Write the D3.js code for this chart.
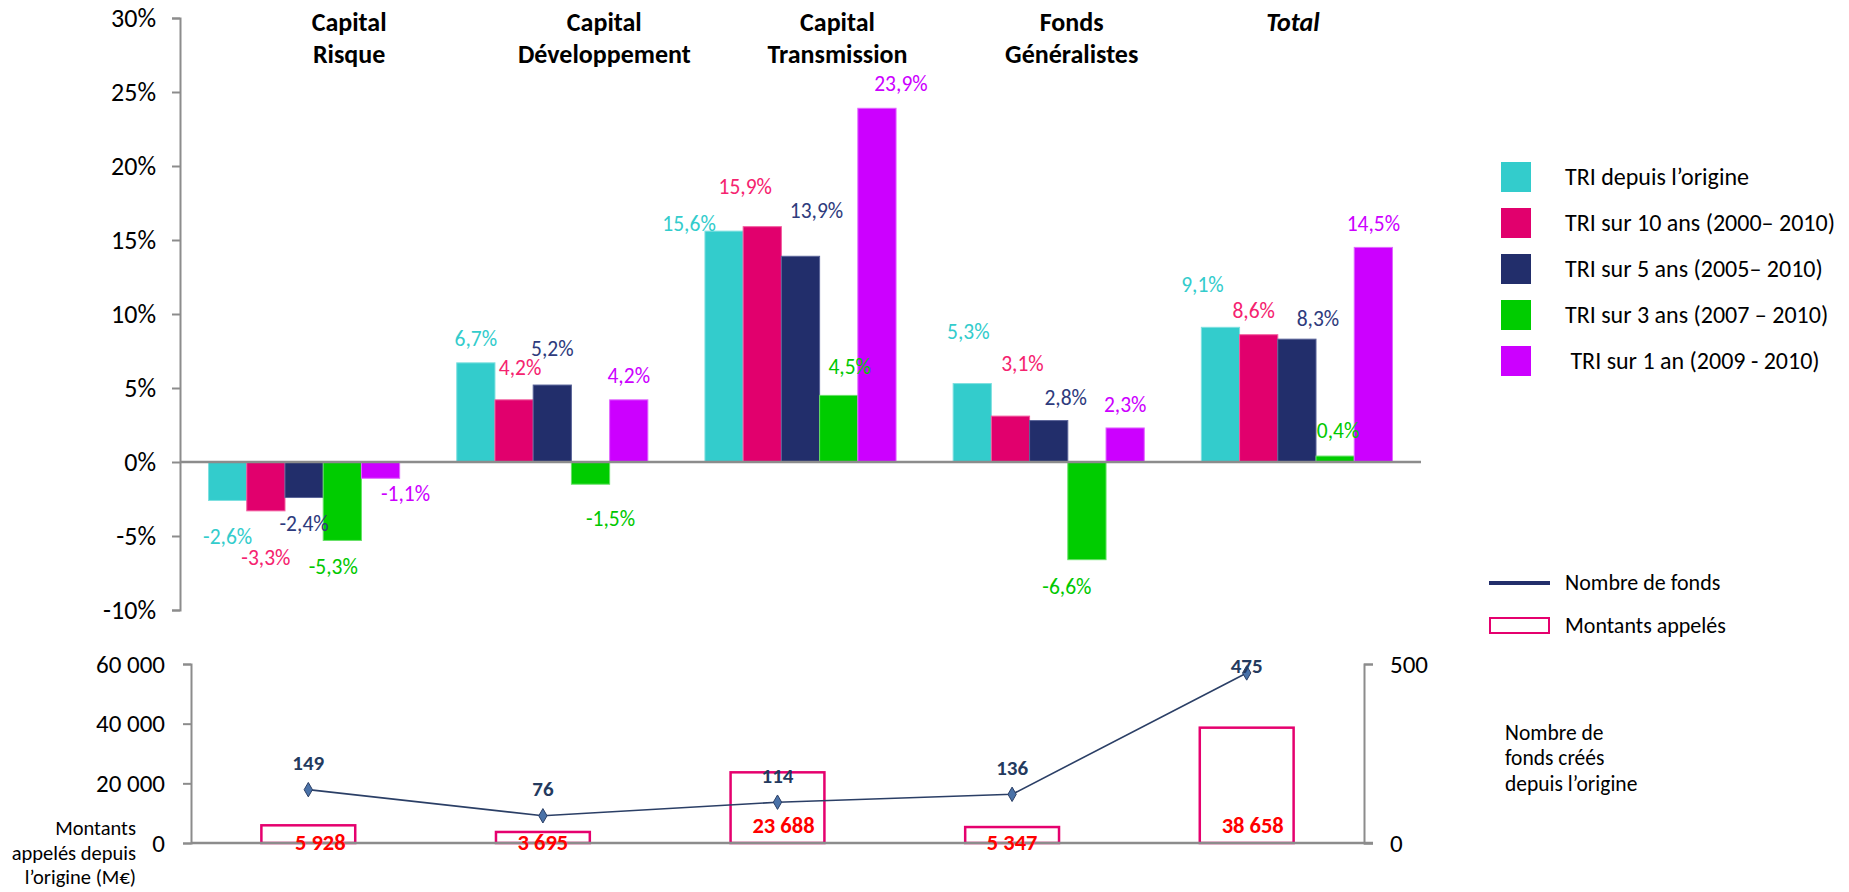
<!DOCTYPE html>
<html>
<head>
<meta charset="utf-8">
<script src="https://cdn.jsdelivr.net/npm/d3@7"></script>
<style>
  body { margin: 0; background: #fff; }
  text { font-family: Carlito, Calibri, Lato, sans-serif; }
</style>
</head>
<body>
<script>
// dimensions
const width = 1849;
const height = 892;

// categories and their two-line titles
const categories = ["Capital Risque", "Capital Développement", "Capital Transmission", "Fonds Généralistes", "Total"];
const titleLines = [["Capital", "Risque"], ["Capital", "Développement"], ["Capital", "Transmission"], ["Fonds", "Généralistes"], ["Total"]];

// TRI series (in %)
const seriesNames = ["TRI depuis l’origine", "TRI sur 10 ans (2000– 2010)", "TRI sur 5 ans (2005– 2010)", "TRI sur 3 ans (2007 – 2010)", " TRI sur 1 an (2009 - 2010)"];
const triOrigine = [-2.6, 6.7, 15.6, 5.3, 9.1];
const tri10ans = [-3.3, 4.2, 15.9, 3.1, 8.6];
const tri5ans = [-2.4, 5.2, 13.9, 2.8, 8.3];
const tri3ans = [-5.3, -1.5, 4.5, -6.6, 0.4];
const tri1an = [-1.1, 4.2, 23.9, 2.3, 14.5];

// bottom panel
const montants = [5928, 3695, 23688, 5347, 38658];
const nbFonds = [149, 76, 114, 136, 475];

// tick values
const pctTicks = [-10, -5, 0, 5, 10, 15, 20, 25, 30];
const montantTicks = [0, 20000, 40000, 60000];
const fondsTicks = [0, 500];

const seriesValues = [triOrigine, tri10ans, tri5ans, tri3ans, tri1an];
const barColors = ["#33CCCC", "#E1006D", "#222E6B", "#00CC00", "#CC00FF"];
const edgeColors = ["#7FE0E0", "#F25C9E", "#5A6499", "#66E066", "#E066FF"];
const labelColors = ["#33CCCC", "#F5236F", "#2E3B7D", "#00C800", "#CC00FF"];

// hand placed label nudges, like in the original sheet [dx, dy]
const labelNudge = [
    [[0, 18], [0, -6], [-35, 10], [-4, -34], [-18, -25]],
    [[0, 29], [6, -14], [-17, -22], [12, -35], [-5, -6]],
    [[0, 8], [0, -19], [16, -28], [17, -5], [21, -3]],
    [[-9, 8], [20, 16], [11, -11], [-20, 9], [3, -8]],
    [[25, -3], [0, -6], [24, -7], [0, -5], [0, -6]]
];
const titleNudge = [45, 52, 37, 23, -4];
const montantNudge = [12, 0, 6, 0, 6];

const axisGrey = "#8C8C8C";
const fmtPct = v => String(v).replace(".", ",") + "%";
const fmtSpace = v => d3.format(",")(v).replace(/,/g, " ");

let svg = d3.select("body")
    .append("svg")
    .attr("width", width)
    .attr("height", height);

// ---------- top chart : TRI ----------
let x0 = d3.scaleBand()
    .domain(categories)
    .range([180, 1421])
    .paddingInner(0.23)
    .paddingOuter(0.115);

let x1 = d3.scaleBand()
    .domain(d3.range(seriesNames.length))
    .range([0, x0.bandwidth()]);

let yPct = d3.scaleLinear()
    .domain([-10, 30])
    .range([610, 18]);

// y axis
let yAxis = svg.append("g")
    .attr("transform", "translate(180,0)")
    .call(d3.axisLeft(yPct).tickValues(pctTicks).tickSize(8).tickPadding(16).tickFormat(d => d + "%"));
yAxis.select(".domain").attr("stroke", axisGrey).attr("stroke-width", 2);
yAxis.selectAll(".tick line").attr("stroke", axisGrey).attr("stroke-width", 2);
yAxis.selectAll(".tick text").attr("font-size", 26).attr("fill", "#000");

// bars first, labels after so nothing covers them
let barLayer = svg.append("g");
let labelLayer = svg.append("g");

seriesValues.forEach(function (vals, s) {
    barLayer.append("g")
        .selectAll("rect")
        .data(vals)
        .enter()
        .append("rect")
        .attr("x", (d, i) => x0(categories[i]) + x1(s))
        .attr("width", x1.bandwidth())
        .attr("y", d => yPct(Math.max(0, d)))
        .attr("height", d => Math.abs(yPct(d) - yPct(0)))
        .attr("fill", barColors[s])
        .attr("stroke", edgeColors[s])
        .attr("stroke-width", 1);

    labelLayer.append("g")
        .selectAll("text")
        .data(vals)
        .enter()
        .append("text")
        .attr("x", (d, i) => x0(categories[i]) + x1(s) + x1.bandwidth() / 2 + labelNudge[s][i][0])
        .attr("y", (d, i) => (d >= 0 ? yPct(d) - 18 : yPct(d) + 18) + labelNudge[s][i][1])
        .attr("dy", "0.35em")
        .attr("text-anchor", "middle")
        .attr("font-size", 21.5)
        .attr("fill", labelColors[s])
        .text(d => fmtPct(d));
});

// zero line
barLayer.append("line")
    .attr("x1", 180).attr("x2", 1421)
    .attr("y1", yPct(0)).attr("y2", yPct(0))
    .attr("stroke", axisGrey).attr("stroke-width", 2.5);

// category titles
categories.forEach(function (c, i) {
    let t = svg.append("text")
        .attr("text-anchor", "middle")
        .attr("font-size", 26)
        .attr("font-weight", "bold")
        .attr("font-style", c === "Total" ? "italic" : "normal")
        .attr("fill", "#000");
    titleLines[i].forEach(function (line, k) {
        t.append("tspan")
            .attr("x", x0(c) + x0.bandwidth() / 2 + titleNudge[i])
            .attr("y", 22 + k * 32)
            .attr("dy", "0.35em")
            .text(line);
    });
});

// legend TRI
let legend = svg.append("g").attr("transform", "translate(1501,162)");
seriesNames.forEach(function (name, s) {
    legend.append("rect")
        .attr("x", 0).attr("y", s * 46)
        .attr("width", 30).attr("height", 30)
        .attr("fill", barColors[s]);
    legend.append("text")
        .attr("x", 64).attr("y", s * 46 + 15)
        .attr("dy", "0.35em")
        .attr("font-size", 24)
        .attr("fill", "#000")
        .style("white-space", "pre")
        .text(name);
});

// ---------- bottom chart : montants + nombre de fonds ----------
let xb = d3.scaleBand()
    .domain(categories)
    .range([191, 1364])
    .paddingInner(0.6)
    .paddingOuter(0.3);

let yMontant = d3.scaleLinear()
    .domain([0, 60000])
    .range([843, 664]);

let yFonds = d3.scaleLinear()
    .domain([0, 500])
    .range([843, 664]);

let leftAxis = svg.append("g")
    .attr("transform", "translate(191,0)")
    .call(d3.axisLeft(yMontant).tickValues(montantTicks).tickSize(8).tickPadding(18).tickFormat(fmtSpace));
leftAxis.select(".domain").attr("stroke", axisGrey).attr("stroke-width", 2);
leftAxis.selectAll(".tick line").attr("stroke", axisGrey).attr("stroke-width", 2);
leftAxis.selectAll(".tick text").attr("font-size", 25).attr("fill", "#000");

let rightAxis = svg.append("g")
    .attr("transform", "translate(1364,0)")
    .call(d3.axisRight(yFonds).tickValues(fondsTicks).tickSize(9).tickPadding(17));
rightAxis.select(".domain").attr("stroke", axisGrey).attr("stroke-width", 2);
rightAxis.selectAll(".tick line").attr("stroke", axisGrey).attr("stroke-width", 2);
rightAxis.selectAll(".tick text").attr("font-size", 25).attr("fill", "#000");

// hollow bars
svg.append("g")
    .selectAll("rect")
    .data(montants)
    .enter()
    .append("rect")
    .attr("x", (d, i) => xb(categories[i]))
    .attr("width", xb.bandwidth())
    .attr("y", d => yMontant(d))
    .attr("height", d => yMontant(0) - yMontant(d))
    .attr("fill", "none")
    .attr("stroke", "#E5006E")
    .attr("stroke-width", 2.5);

// base line
svg.append("line")
    .attr("x1", 191).attr("x2", 1373)
    .attr("y1", yMontant(0)).attr("y2", yMontant(0))
    .attr("stroke", axisGrey).attr("stroke-width", 2.5);

// montant labels
svg.append("g")
    .selectAll("text")
    .data(montants)
    .enter()
    .append("text")
    .attr("x", (d, i) => xb(categories[i]) + xb.bandwidth() / 2 + montantNudge[i])
    .attr("y", d => (yMontant(0) - yMontant(d) > 40 ? yMontant(0) - 18 : yMontant(0) - 1))
    .attr("dy", "0.35em")
    .attr("text-anchor", "middle")
    .attr("font-size", 22.5)
    .attr("font-weight", "bold")
    .attr("fill", "#FF0000")
    .text(d => fmtSpace(d));

// line : nombre de fonds
let line = d3.line()
    .x((d, i) => xb(categories[i]) + xb.bandwidth() / 2)
    .y(d => yFonds(d));

svg.append("path")
    .datum(nbFonds)
    .attr("d", line)
    .attr("fill", "none")
    .attr("stroke", "#2B3F66")
    .attr("stroke-width", 1.6);

svg.append("g")
    .selectAll("path")
    .data(nbFonds)
    .enter()
    .append("path")
    .attr("d", d3.symbol().type(d3.symbolDiamond).size(60))
    .attr("transform", (d, i) => "translate(" + (xb(categories[i]) + xb.bandwidth() / 2) + "," + yFonds(d) + ")")
    .attr("fill", "#4A72A8")
    .attr("stroke", "#2B3F66")
    .attr("stroke-width", 1);

svg.append("g")
    .selectAll("text")
    .data(nbFonds)
    .enter()
    .append("text")
    .attr("x", (d, i) => xb(categories[i]) + xb.bandwidth() / 2)
    .attr("y", d => Math.max(yFonds(d) - 27, 666))
    .attr("dy", "0.35em")
    .attr("text-anchor", "middle")
    .attr("font-size", 21)
    .attr("font-weight", "bold")
    .attr("fill", "#243A5E")
    .text(d => d);

// left annotation
let leftNote = svg.append("text")
    .attr("text-anchor", "end")
    .attr("font-size", 20.5)
    .attr("fill", "#000");
["Montants", "appelés depuis", "l’origine (M€)"].forEach(function (l, k) {
    leftNote.append("tspan").attr("x", 136).attr("y", 828 + k * 24.5).attr("dy", "0.35em").text(l);
});

// right annotation
let rightNote = svg.append("text")
    .attr("font-size", 21.5)
    .attr("fill", "#000");
["Nombre de", "fonds créés", "depuis l’origine"].forEach(function (l, k) {
    rightNote.append("tspan").attr("x", 1505).attr("y", 732 + k * 25.5).attr("dy", "0.35em").text(l);
});

// legend bottom
svg.append("line")
    .attr("x1", 1489).attr("x2", 1550)
    .attr("y1", 583).attr("y2", 583)
    .attr("stroke", "#222E6B").attr("stroke-width", 4);
svg.append("text")
    .attr("x", 1565).attr("y", 582).attr("dy", "0.35em")
    .attr("font-size", 22).attr("fill", "#000")
    .text("Nombre de fonds");
svg.append("rect")
    .attr("x", 1490).attr("y", 618)
    .attr("width", 59).attr("height", 15)
    .attr("fill", "none")
    .attr("stroke", "#E5006E").attr("stroke-width", 2);
svg.append("text")
    .attr("x", 1565).attr("y", 625).attr("dy", "0.35em")
    .attr("font-size", 22).attr("fill", "#000")
    .text("Montants appelés");
</script>
</body>
</html>
